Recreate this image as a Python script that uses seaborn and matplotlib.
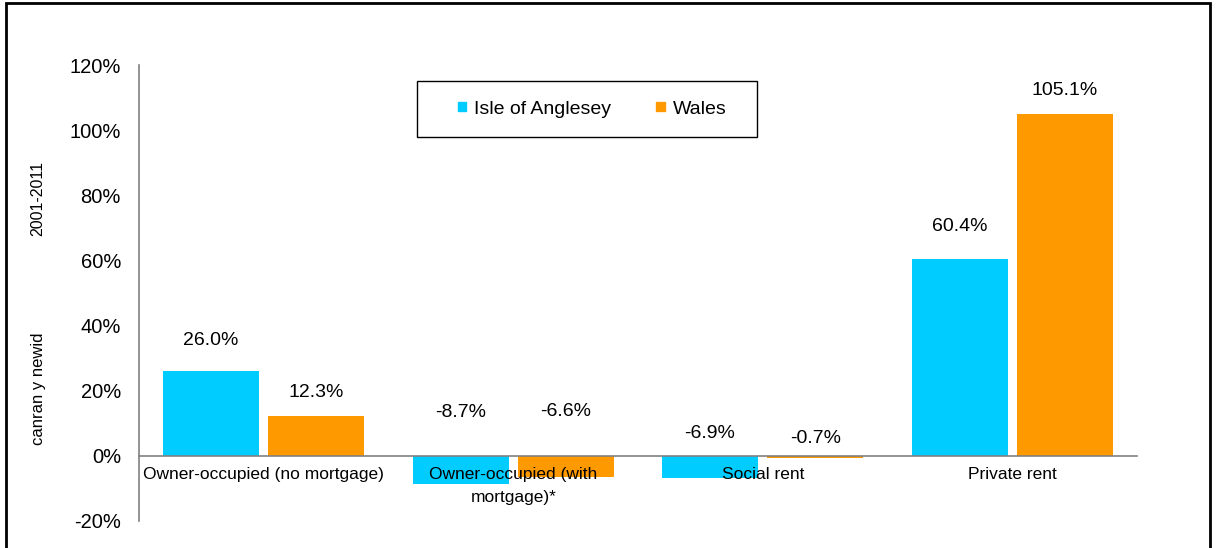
import matplotlib
matplotlib.use("Agg")
import matplotlib.pyplot as plt
import matplotlib.patches as mpatches
import seaborn as sns
import pandas as pd

# Chart data
categories = [
    "Owner-occupied (no mortgage)",
    "Owner-occupied (with\nmortgage)*",
    "Social rent",
    "Private rent",
]
anglesey = [26.0, -8.7, -6.9, 60.4]
wales = [12.3, -6.6, -0.7, 105.1]
series_names = ["Isle of Anglesey", "Wales"]
y_ticks = [-20, 0, 20, 40, 60, 80, 100, 120]

# Label offsets in pixels (from bar top for positives, from zero for negatives)
label_offsets_anglesey = [31, 43, 22, 33]
label_offsets_wales = [23, 44, 17, 23]

COLORS = {"Isle of Anglesey": "#00CCFF", "Wales": "#FF9900"}
FONT = "Liberation Sans"

df = pd.DataFrame({
    "category": categories * 2,
    "area": [series_names[0]] * len(categories) + [series_names[1]] * len(categories),
    "value": anglesey + wales,
})

sns.set_style("white")
plt.rcParams["font.family"] = [FONT, "DejaVu Sans"]
plt.rcParams["text.color"] = "black"
plt.rcParams["xtick.color"] = "black"
plt.rcParams["ytick.color"] = "black"

fig = plt.figure(figsize=(12.16, 5.48), dpi=100)
ax = fig.add_axes([139 / 1216, 1 - 521 / 548, (1137 - 139) / 1216, (521 - 65) / 548])

sns.barplot(
    data=df, x="category", y="value", hue="area", order=categories,
    hue_order=series_names, palette=COLORS, width=0.845, gap=0.09,
    linewidth=0, saturation=1, legend=False, ax=ax,
)

ax.set_ylim(-20, 120)
ax.set_xlim(-0.5, len(categories) - 0.5)
ax.set_yticks(y_ticks)
ax.set_yticklabels([f"{t}%" for t in y_ticks], fontsize=14.5)
ax.set_xlabel("")
ax.set_ylabel("")
ax.set_axisbelow(False)

# x axis sits at zero, ticks between categories
for side in ["top", "right"]:
    ax.spines[side].set_visible(False)
ax.spines["bottom"].set_position(("data", 0))
for side in ["bottom", "left"]:
    ax.spines[side].set_color("#808080")
    ax.spines[side].set_linewidth(1.2)
ax.set_xticks(range(len(categories)))
ax.set_xticklabels(categories, fontsize=12.5, va="top", linespacing=1.65)
ax.set_xticks([i - 0.5 for i in range(len(categories) + 1)], minor=True)
ax.tick_params(axis="x", which="major", length=0, pad=8)
ax.tick_params(axis="x", which="minor", length=5, direction="out", color="#808080")
ax.tick_params(axis="y", length=5, direction="out", color="#808080", pad=8)

# value labels
for patches, vals, offs in [
    (ax.containers[0], anglesey, label_offsets_anglesey),
    (ax.containers[1], wales, label_offsets_wales),
]:
    for bar, v, off in zip(patches, vals, offs):
        x = bar.get_x() + bar.get_width() / 2
        base = max(v, 0)
        ax.annotate(f"{v:.1f}%", (x, base), xytext=(0, off),
                    textcoords="offset pixels", ha="center", va="center",
                    fontsize=14)

# y axis title, two pieces as in the original
fig.text(38 / 1216, 1 - 389 / 548, "canran y newid", rotation=90,
         ha="center", va="center", fontsize=12)
fig.text(38 / 1216, 1 - 199 / 548, "2001-2011", rotation=90,
         ha="center", va="center", fontsize=11.5)

# legend with a plain box
handles = [mpatches.Patch(color=COLORS[n], label=n) for n in series_names]
fig.legend(handles=handles, loc="center", ncol=2, frameon=False,
           bbox_to_anchor=(592 / 1216, 1 - 109 / 548), fontsize=14,
           handlelength=0.45, handleheight=0.3, handletextpad=0.4,
           columnspacing=2.3)
fig.patches.append(mpatches.Rectangle(
    (417 / 1216, 1 - 137 / 548), 340 / 1216, 56 / 548,
    transform=fig.transFigure, fill=False, edgecolor="black", linewidth=1))

# outer frame (bottom edge falls outside the image)
fig.patches.append(mpatches.Rectangle(
    (6 / 1216, -0.05), (1210 - 6) / 1216, 1.05 - 3 / 548,
    transform=fig.transFigure, fill=False, edgecolor="black", linewidth=2))

fig.savefig("out.png", dpi=100)
